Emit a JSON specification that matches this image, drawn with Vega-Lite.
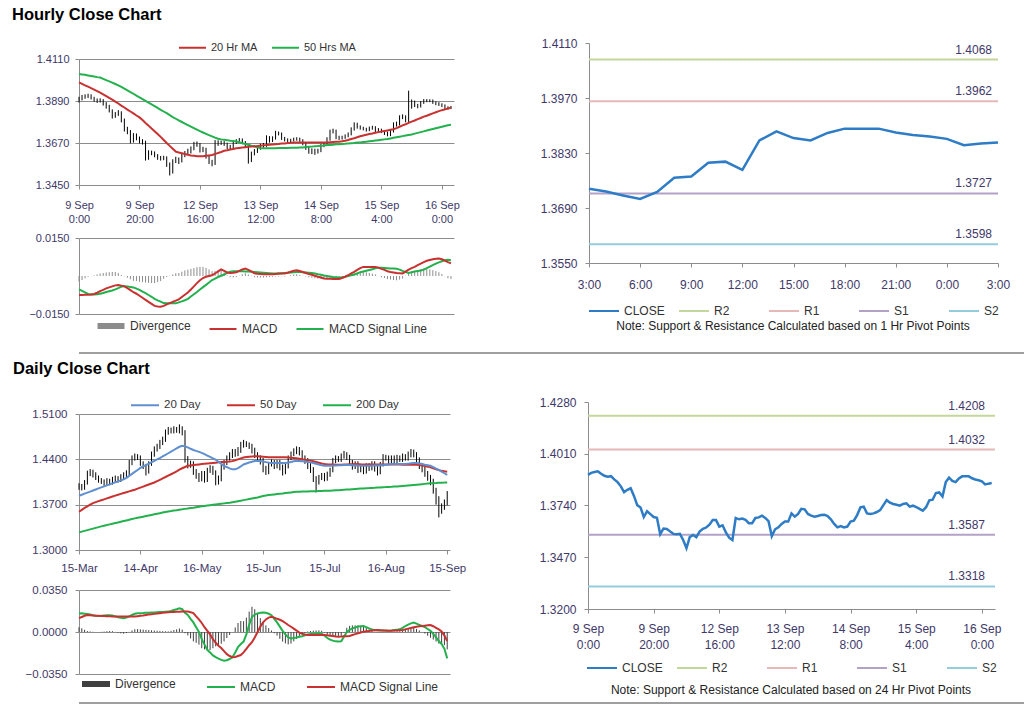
{
 "$schema": "https://vega.github.io/schema/vega-lite/v6.json",
 "background": "#ffffff",
 "padding": {"left": 0, "top": 6, "right": 0, "bottom": 0},
 "config": {
  "font": "Liberation Sans",
  "view": {"stroke": null},
  "legend": {"layout": {"top": {"anchor": "middle"}, "bottom": {"anchor": "middle"}}, "labelFont": "Liberation Sans", "titleFont": "Liberation Sans", "labelColor": "#333333"},
  "axis": {"labelFont": "Liberation Sans", "labelColor": "#403868", "domainColor": "#8c8c8c", "tickColor": "#8c8c8c", "gridColor": "#8c8c8c", "labelFontSize": 11}
 },
 "datasets": {
  "hr": [
{"i":0,"c":1.3900,"l":1.3882,"h":1.3912,"a":1.3988,"b":1.4031,"m":-0.0075,"s":-0.0053,"d":-0.0022},
{"i":1,"c":1.3910,"l":1.3893,"h":1.3922,"a":1.3980,"b":1.4029,"m":-0.0075,"s":-0.0059,"d":-0.0016},
{"i":2,"c":1.3915,"l":1.3902,"h":1.3925,"a":1.3972,"b":1.4027,"m":-0.0074,"s":-0.0065,"d":-0.0009},
{"i":3,"c":1.3918,"l":1.3906,"h":1.3928,"a":1.3965,"b":1.4024,"m":-0.0074,"s":-0.0071,"d":-0.0003},
{"i":4,"c":1.3906,"l":1.3898,"h":1.3925,"a":1.3957,"b":1.4021,"m":-0.0073,"s":-0.0073,"d":0},
{"i":5,"c":1.3895,"l":1.3886,"h":1.3912,"a":1.3950,"b":1.4018,"m":-0.0071,"s":-0.0073,"d":0.0002},
{"i":6,"c":1.3890,"l":1.3880,"h":1.3903,"a":1.3942,"b":1.4015,"m":-0.0066,"s":-0.0072,"d":0.0006},
{"i":7,"c":1.3893,"l":1.3882,"h":1.3904,"a":1.3934,"b":1.4013,"m":-0.0060,"s":-0.0070,"d":0.0010},
{"i":8,"c":1.3876,"l":1.3866,"h":1.3900,"a":1.3925,"b":1.4006,"m":-0.0055,"s":-0.0067,"d":0.0012},
{"i":9,"c":1.3862,"l":1.3850,"h":1.3884,"a":1.3916,"b":1.3999,"m":-0.0049,"s":-0.0063,"d":0.0014},
{"i":10,"c":1.3840,"l":1.3830,"h":1.3870,"a":1.3906,"b":1.3993,"m":-0.0045,"s":-0.0060,"d":0.0015},
{"i":11,"c":1.3810,"l":1.3798,"h":1.3846,"a":1.3897,"b":1.3986,"m":-0.0041,"s":-0.0057,"d":0.0016},
{"i":12,"c":1.3822,"l":1.3802,"h":1.3832,"a":1.3887,"b":1.3979,"m":-0.0037,"s":-0.0053,"d":0.0016},
{"i":13,"c":1.3830,"l":1.3812,"h":1.3842,"a":1.3877,"b":1.3972,"m":-0.0036,"s":-0.0048,"d":0.0012},
{"i":14,"c":1.3790,"l":1.3778,"h":1.3836,"a":1.3866,"b":1.3964,"m":-0.0038,"s":-0.0042,"d":0.0004},
{"i":15,"c":1.3742,"l":1.3730,"h":1.3798,"a":1.3856,"b":1.3955,"m":-0.0041,"s":-0.0040,"d":-0.0001},
{"i":16,"c":1.3730,"l":1.3716,"h":1.3755,"a":1.3845,"b":1.3946,"m":-0.0048,"s":-0.0041,"d":-0.0007},
{"i":17,"c":1.3680,"l":1.3668,"h":1.3738,"a":1.3835,"b":1.3937,"m":-0.0056,"s":-0.0043,"d":-0.0013},
{"i":18,"c":1.3710,"l":1.3672,"h":1.3722,"a":1.3825,"b":1.3928,"m":-0.0064,"s":-0.0045,"d":-0.0019},
{"i":19,"c":1.3695,"l":1.3684,"h":1.3720,"a":1.3814,"b":1.3918,"m":-0.0070,"s":-0.0050,"d":-0.0020},
{"i":20,"c":1.3680,"l":1.3668,"h":1.3704,"a":1.3804,"b":1.3909,"m":-0.0078,"s":-0.0055,"d":-0.0023},
{"i":21,"c":1.3676,"l":1.3662,"h":1.3690,"a":1.3790,"b":1.3900,"m":-0.0086,"s":-0.0062,"d":-0.0024},
{"i":22,"c":1.3590,"l":1.3578,"h":1.3682,"a":1.3775,"b":1.3891,"m":-0.0094,"s":-0.0068,"d":-0.0026},
{"i":23,"c":1.3620,"l":1.3582,"h":1.3632,"a":1.3761,"b":1.3881,"m":-0.0102,"s":-0.0075,"d":-0.0027},
{"i":24,"c":1.3618,"l":1.3606,"h":1.3630,"a":1.3746,"b":1.3872,"m":-0.0110,"s":-0.0082,"d":-0.0028},
{"i":25,"c":1.3605,"l":1.3595,"h":1.3626,"a":1.3732,"b":1.3863,"m":-0.0118,"s":-0.0090,"d":-0.0028},
{"i":26,"c":1.3592,"l":1.3582,"h":1.3612,"a":1.3717,"b":1.3854,"m":-0.0120,"s":-0.0096,"d":-0.0024},
{"i":27,"c":1.3590,"l":1.3578,"h":1.3602,"a":1.3702,"b":1.3844,"m":-0.0121,"s":-0.0101,"d":-0.0020},
{"i":28,"c":1.3592,"l":1.3580,"h":1.3603,"a":1.3686,"b":1.3835,"m":-0.0118,"s":-0.0107,"d":-0.0011},
{"i":29,"c":1.3560,"l":1.3545,"h":1.3600,"a":1.3670,"b":1.3826,"m":-0.0112,"s":-0.0108,"d":-0.0004},
{"i":30,"c":1.3517,"l":1.3500,"h":1.3568,"a":1.3655,"b":1.3816,"m":-0.0107,"s":-0.0108,"d":0.0001},
{"i":31,"c":1.3575,"l":1.3510,"h":1.3585,"a":1.3640,"b":1.3806,"m":-0.0102,"s":-0.0108,"d":0.0006},
{"i":32,"c":1.3586,"l":1.3565,"h":1.3598,"a":1.3625,"b":1.3797,"m":-0.0097,"s":-0.0108,"d":0.0011},
{"i":33,"c":1.3575,"l":1.3560,"h":1.3594,"a":1.3620,"b":1.3788,"m":-0.0092,"s":-0.0104,"d":0.0012},
{"i":34,"c":1.3604,"l":1.3568,"h":1.3615,"a":1.3616,"b":1.3780,"m":-0.0083,"s":-0.0100,"d":0.0017},
{"i":35,"c":1.3618,"l":1.3596,"h":1.3628,"a":1.3612,"b":1.3772,"m":-0.0074,"s":-0.0096,"d":0.0022},
{"i":36,"c":1.3625,"l":1.3610,"h":1.3640,"a":1.3608,"b":1.3764,"m":-0.0065,"s":-0.0090,"d":0.0025},
{"i":37,"c":1.3640,"l":1.3615,"h":1.3652,"a":1.3605,"b":1.3756,"m":-0.0053,"s":-0.0081,"d":0.0028},
{"i":38,"c":1.3664,"l":1.3632,"h":1.3676,"a":1.3603,"b":1.3748,"m":-0.0041,"s":-0.0072,"d":0.0031},
{"i":39,"c":1.3664,"l":1.3650,"h":1.3678,"a":1.3601,"b":1.3740,"m":-0.0028,"s":-0.0063,"d":0.0035},
{"i":40,"c":1.3630,"l":1.3620,"h":1.3670,"a":1.3600,"b":1.3732,"m":-0.0017,"s":-0.0053,"d":0.0036},
{"i":41,"c":1.3637,"l":1.3622,"h":1.3650,"a":1.3601,"b":1.3725,"m":-0.0008,"s":-0.0044,"d":0.0036},
{"i":42,"c":1.3600,"l":1.3588,"h":1.3645,"a":1.3603,"b":1.3718,"m":-0.0003,"s":-0.0035,"d":0.0032},
{"i":43,"c":1.3572,"l":1.3560,"h":1.3608,"a":1.3605,"b":1.3711,"m":0.0000,"s":-0.0026,"d":0.0026},
{"i":44,"c":1.3560,"l":1.3548,"h":1.3582,"a":1.3607,"b":1.3705,"m":0.0003,"s":-0.0016,"d":0.0019},
{"i":45,"c":1.3675,"l":1.3555,"h":1.3685,"a":1.3612,"b":1.3698,"m":0.0010,"s":-0.0010,"d":0.0020},
{"i":46,"c":1.3668,"l":1.3655,"h":1.3684,"a":1.3618,"b":1.3692,"m":0.0018,"s":-0.0004,"d":0.0022},
{"i":47,"c":1.3672,"l":1.3660,"h":1.3682,"a":1.3623,"b":1.3689,"m":0.0026,"s":0.0001,"d":0.0025},
{"i":48,"c":1.3665,"l":1.3655,"h":1.3680,"a":1.3629,"b":1.3687,"m":0.0020,"s":0.0006,"d":0.0014},
{"i":49,"c":1.3648,"l":1.3638,"h":1.3672,"a":1.3632,"b":1.3685,"m":0.0014,"s":0.0012,"d":0.0002},
{"i":50,"c":1.3648,"l":1.3636,"h":1.3660,"a":1.3636,"b":1.3682,"m":0.0012,"s":0.0017,"d":-0.0005},
{"i":51,"c":1.3675,"l":1.3640,"h":1.3685,"a":1.3639,"b":1.3680,"m":0.0013,"s":0.0019,"d":-0.0006},
{"i":52,"c":1.3678,"l":1.3665,"h":1.3690,"a":1.3642,"b":1.3678,"m":0.0015,"s":0.0019,"d":-0.0004},
{"i":53,"c":1.3687,"l":1.3670,"h":1.3696,"a":1.3644,"b":1.3674,"m":0.0020,"s":0.0019,"d":0.0001},
{"i":54,"c":1.3675,"l":1.3664,"h":1.3694,"a":1.3646,"b":1.3669,"m":0.0026,"s":0.0019,"d":0.0007},
{"i":55,"c":1.3658,"l":1.3646,"h":1.3680,"a":1.3648,"b":1.3665,"m":0.0029,"s":0.0018,"d":0.0011},
{"i":56,"c":1.3580,"l":1.3562,"h":1.3665,"a":1.3650,"b":1.3661,"m":0.0024,"s":0.0018,"d":0.0006},
{"i":57,"c":1.3616,"l":1.3570,"h":1.3625,"a":1.3651,"b":1.3656,"m":0.0018,"s":0.0017,"d":0.0001},
{"i":58,"c":1.3626,"l":1.3605,"h":1.3638,"a":1.3653,"b":1.3652,"m":0.0011,"s":0.0016,"d":-0.0005},
{"i":59,"c":1.3644,"l":1.3618,"h":1.3655,"a":1.3654,"b":1.3647,"m":0.0009,"s":0.0015,"d":-0.0006},
{"i":60,"c":1.3656,"l":1.3635,"h":1.3666,"a":1.3656,"b":1.3643,"m":0.0008,"s":0.0014,"d":-0.0006},
{"i":61,"c":1.3656,"l":1.3645,"h":1.3670,"a":1.3658,"b":1.3643,"m":0.0007,"s":0.0013,"d":-0.0006},
{"i":62,"c":1.3699,"l":1.3650,"h":1.3710,"a":1.3659,"b":1.3643,"m":0.0007,"s":0.0012,"d":-0.0005},
{"i":63,"c":1.3682,"l":1.3672,"h":1.3706,"a":1.3661,"b":1.3643,"m":0.0007,"s":0.0011,"d":-0.0004},
{"i":64,"c":1.3696,"l":1.3675,"h":1.3705,"a":1.3662,"b":1.3643,"m":0.0007,"s":0.0010,"d":-0.0003},
{"i":65,"c":1.3723,"l":1.3688,"h":1.3734,"a":1.3664,"b":1.3643,"m":0.0008,"s":0.0010,"d":-0.0002},
{"i":66,"c":1.3720,"l":1.3710,"h":1.3730,"a":1.3665,"b":1.3644,"m":0.0009,"s":0.0011,"d":-0.0002},
{"i":67,"c":1.3696,"l":1.3686,"h":1.3725,"a":1.3667,"b":1.3644,"m":0.0010,"s":0.0011,"d":-0.0001},
{"i":68,"c":1.3687,"l":1.3678,"h":1.3702,"a":1.3668,"b":1.3644,"m":0.0010,"s":0.0012,"d":-0.0002},
{"i":69,"c":1.3682,"l":1.3674,"h":1.3694,"a":1.3670,"b":1.3644,"m":0.0013,"s":0.0013,"d":0},
{"i":70,"c":1.3685,"l":1.3675,"h":1.3692,"a":1.3671,"b":1.3645,"m":0.0017,"s":0.0014,"d":0.0003},
{"i":71,"c":1.3690,"l":1.3678,"h":1.3698,"a":1.3673,"b":1.3645,"m":0.0021,"s":0.0015,"d":0.0006},
{"i":72,"c":1.3692,"l":1.3682,"h":1.3700,"a":1.3673,"b":1.3645,"m":0.0023,"s":0.0016,"d":0.0007},
{"i":73,"c":1.3685,"l":1.3676,"h":1.3698,"a":1.3673,"b":1.3646,"m":0.0020,"s":0.0016,"d":0.0004},
{"i":74,"c":1.3668,"l":1.3658,"h":1.3690,"a":1.3673,"b":1.3647,"m":0.0016,"s":0.0015,"d":0.0001},
{"i":75,"c":1.3644,"l":1.3634,"h":1.3672,"a":1.3673,"b":1.3649,"m":0.0012,"s":0.0014,"d":-0.0002},
{"i":76,"c":1.3626,"l":1.3614,"h":1.3650,"a":1.3673,"b":1.3650,"m":0.0008,"s":0.0013,"d":-0.0005},
{"i":77,"c":1.3633,"l":1.3612,"h":1.3642,"a":1.3673,"b":1.3651,"m":0.0005,"s":0.0012,"d":-0.0007},
{"i":78,"c":1.3626,"l":1.3608,"h":1.3640,"a":1.3673,"b":1.3653,"m":0.0001,"s":0.0010,"d":-0.0009},
{"i":79,"c":1.3630,"l":1.3615,"h":1.3640,"a":1.3673,"b":1.3654,"m":-0.0003,"s":0.0007,"d":-0.0010},
{"i":80,"c":1.3656,"l":1.3622,"h":1.3666,"a":1.3673,"b":1.3656,"m":-0.0006,"s":0.0005,"d":-0.0011},
{"i":81,"c":1.3661,"l":1.3648,"h":1.3672,"a":1.3673,"b":1.3657,"m":-0.0010,"s":0.0002,"d":-0.0012},
{"i":82,"c":1.3690,"l":1.3654,"h":1.3700,"a":1.3673,"b":1.3659,"m":-0.0011,"s":0.0000,"d":-0.0011},
{"i":83,"c":1.3730,"l":1.3682,"h":1.3740,"a":1.3674,"b":1.3660,"m":-0.0011,"s":-0.0002,"d":-0.0009},
{"i":84,"c":1.3734,"l":1.3720,"h":1.3745,"a":1.3675,"b":1.3661,"m":-0.0012,"s":-0.0004,"d":-0.0008},
{"i":85,"c":1.3699,"l":1.3690,"h":1.3740,"a":1.3676,"b":1.3663,"m":-0.0012,"s":-0.0005,"d":-0.0007},
{"i":86,"c":1.3696,"l":1.3686,"h":1.3708,"a":1.3677,"b":1.3664,"m":-0.0012,"s":-0.0006,"d":-0.0006},
{"i":87,"c":1.3699,"l":1.3688,"h":1.3708,"a":1.3679,"b":1.3665,"m":-0.0008,"s":-0.0005,"d":-0.0003},
{"i":88,"c":1.3706,"l":1.3692,"h":1.3715,"a":1.3682,"b":1.3666,"m":-0.0003,"s":-0.0003,"d":0},
{"i":89,"c":1.3716,"l":1.3700,"h":1.3725,"a":1.3686,"b":1.3668,"m":0.0003,"s":0.0000,"d":0.0003},
{"i":90,"c":1.3742,"l":1.3710,"h":1.3752,"a":1.3691,"b":1.3669,"m":0.0010,"s":0.0003,"d":0.0007},
{"i":91,"c":1.3768,"l":1.3735,"h":1.3778,"a":1.3695,"b":1.3670,"m":0.0016,"s":0.0006,"d":0.0010},
{"i":92,"c":1.3755,"l":1.3745,"h":1.3776,"a":1.3700,"b":1.3672,"m":0.0024,"s":0.0010,"d":0.0014},
{"i":93,"c":1.3748,"l":1.3740,"h":1.3762,"a":1.3705,"b":1.3673,"m":0.0031,"s":0.0015,"d":0.0016},
{"i":94,"c":1.3744,"l":1.3736,"h":1.3755,"a":1.3709,"b":1.3675,"m":0.0036,"s":0.0018,"d":0.0018},
{"i":95,"c":1.3739,"l":1.3730,"h":1.3750,"a":1.3713,"b":1.3677,"m":0.0036,"s":0.0021,"d":0.0015},
{"i":96,"c":1.3748,"l":1.3732,"h":1.3756,"a":1.3717,"b":1.3679,"m":0.0036,"s":0.0024,"d":0.0012},
{"i":97,"c":1.3751,"l":1.3740,"h":1.3760,"a":1.3720,"b":1.3681,"m":0.0036,"s":0.0027,"d":0.0009},
{"i":98,"c":1.3734,"l":1.3726,"h":1.3758,"a":1.3724,"b":1.3683,"m":0.0036,"s":0.0030,"d":0.0006},
{"i":99,"c":1.3739,"l":1.3725,"h":1.3748,"a":1.3727,"b":1.3685,"m":0.0033,"s":0.0033,"d":0},
{"i":100,"c":1.3732,"l":1.3722,"h":1.3745,"a":1.3730,"b":1.3687,"m":0.0028,"s":0.0033,"d":-0.0005},
{"i":101,"c":1.3722,"l":1.3712,"h":1.3738,"a":1.3733,"b":1.3689,"m":0.0024,"s":0.0032,"d":-0.0008},
{"i":102,"c":1.3713,"l":1.3705,"h":1.3730,"a":1.3736,"b":1.3691,"m":0.0019,"s":0.0031,"d":-0.0012},
{"i":103,"c":1.3731,"l":1.3706,"h":1.3740,"a":1.3739,"b":1.3694,"m":0.0016,"s":0.0030,"d":-0.0014},
{"i":104,"c":1.3767,"l":1.3725,"h":1.3778,"a":1.3742,"b":1.3697,"m":0.0014,"s":0.0030,"d":-0.0016},
{"i":105,"c":1.3770,"l":1.3756,"h":1.3782,"a":1.3748,"b":1.3700,"m":0.0012,"s":0.0029,"d":-0.0017},
{"i":106,"c":1.3805,"l":1.3762,"h":1.3815,"a":1.3755,"b":1.3703,"m":0.0011,"s":0.0025,"d":-0.0014},
{"i":107,"c":1.3808,"l":1.3795,"h":1.3820,"a":1.3762,"b":1.3706,"m":0.0010,"s":0.0020,"d":-0.0010},
{"i":108,"c":1.3787,"l":1.3778,"h":1.3815,"a":1.3768,"b":1.3709,"m":0.0017,"s":0.0016,"d":0.0001},
{"i":109,"c":1.3862,"l":1.3780,"h":1.3944,"a":1.3775,"b":1.3712,"m":0.0025,"s":0.0012,"d":0.0013},
{"i":110,"c":1.3885,"l":1.3850,"h":1.3898,"a":1.3782,"b":1.3715,"m":0.0031,"s":0.0015,"d":0.0016},
{"i":111,"c":1.3868,"l":1.3858,"h":1.3892,"a":1.3788,"b":1.3719,"m":0.0036,"s":0.0018,"d":0.0018},
{"i":112,"c":1.3862,"l":1.3852,"h":1.3875,"a":1.3795,"b":1.3723,"m":0.0043,"s":0.0020,"d":0.0023},
{"i":113,"c":1.3881,"l":1.3856,"h":1.3890,"a":1.3801,"b":1.3727,"m":0.0049,"s":0.0022,"d":0.0027},
{"i":114,"c":1.3892,"l":1.3875,"h":1.3900,"a":1.3808,"b":1.3731,"m":0.0055,"s":0.0025,"d":0.0030},
{"i":115,"c":1.3892,"l":1.3884,"h":1.3900,"a":1.3813,"b":1.3735,"m":0.0060,"s":0.0031,"d":0.0029},
{"i":116,"c":1.3892,"l":1.3884,"h":1.3899,"a":1.3819,"b":1.3739,"m":0.0063,"s":0.0037,"d":0.0026},
{"i":117,"c":1.3882,"l":1.3875,"h":1.3898,"a":1.3825,"b":1.3743,"m":0.0066,"s":0.0043,"d":0.0023},
{"i":118,"c":1.3876,"l":1.3868,"h":1.3888,"a":1.3831,"b":1.3747,"m":0.0068,"s":0.0049,"d":0.0019},
{"i":119,"c":1.3872,"l":1.3864,"h":1.3884,"a":1.3837,"b":1.3751,"m":0.0069,"s":0.0054,"d":0.0015},
{"i":120,"c":1.3866,"l":1.3858,"h":1.3878,"a":1.3842,"b":1.3755,"m":0.0066,"s":0.0058,"d":0.0008},
{"i":121,"c":1.3850,"l":1.3842,"h":1.3872,"a":1.3846,"b":1.3759,"m":0.0061,"s":0.0062,"d":-0.0001},
{"i":122,"c":1.3854,"l":1.3845,"h":1.3862,"a":1.3851,"b":1.3763,"m":0.0055,"s":0.0064,"d":-0.0009},
{"i":123,"c":1.3857,"l":1.3848,"h":1.3864,"a":1.3855,"b":1.3766,"m":0.0050,"s":0.0062,"d":-0.0012}
  ],
  "dy": [
{"d":0,"l":1.3930,"h":1.4030,"a":1.3838,"b":1.3591,"g":1.3272,"m":0.0155,"s":0.0115,"v":0.0040},
{"d":1,"l":1.3920,"h":1.4020,"a":1.3854,"b":1.3620,"g":1.3284,"m":0.0156,"s":0.0125,"v":0.0031},
{"d":2,"l":1.3930,"h":1.4080,"a":1.3870,"b":1.3650,"g":1.3295,"m":0.0153,"s":0.0135,"v":0.0018},
{"d":3,"l":1.4010,"h":1.4225,"a":1.3886,"b":1.3675,"g":1.3307,"m":0.0150,"s":0.0142,"v":0.0008},
{"d":4,"l":1.4140,"h":1.4250,"a":1.3902,"b":1.3700,"g":1.3319,"m":0.0145,"s":0.0140,"v":0.0005},
{"d":5,"l":1.4120,"h":1.4240,"a":1.3918,"b":1.3725,"g":1.3330,"m":0.0140,"s":0.0138,"v":0.0002},
{"d":6,"l":1.4080,"h":1.4200,"a":1.3935,"b":1.3740,"g":1.3342,"m":0.0136,"s":0.0136,"v":0},
{"d":7,"l":1.4040,"h":1.4150,"a":1.3951,"b":1.3754,"g":1.3353,"m":0.0134,"s":0.0135,"v":-0.0001},
{"d":8,"l":1.4020,"h":1.4110,"a":1.3967,"b":1.3768,"g":1.3365,"m":0.0135,"s":0.0134,"v":0.0001},
{"d":9,"l":1.3990,"h":1.4090,"a":1.3982,"b":1.3782,"g":1.3375,"m":0.0137,"s":0.0133,"v":0.0004},
{"d":10,"l":1.4000,"h":1.4110,"a":1.3998,"b":1.3797,"g":1.3385,"m":0.0139,"s":0.0132,"v":0.0007},
{"d":11,"l":1.4000,"h":1.4100,"a":1.4013,"b":1.3811,"g":1.3396,"m":0.0140,"s":0.0131,"v":0.0009},
{"d":12,"l":1.4010,"h":1.4130,"a":1.4029,"b":1.3825,"g":1.3406,"m":0.0137,"s":0.0130,"v":0.0007},
{"d":13,"l":1.4050,"h":1.4150,"a":1.4044,"b":1.3840,"g":1.3416,"m":0.0130,"s":0.0129,"v":0.0001},
{"d":14,"l":1.4040,"h":1.4140,"a":1.4060,"b":1.3853,"g":1.3426,"m":0.0123,"s":0.0129,"v":-0.0006},
{"d":15,"l":1.4050,"h":1.4170,"a":1.4075,"b":1.3866,"g":1.3437,"m":0.0118,"s":0.0129,"v":-0.0011},
{"d":16,"l":1.4090,"h":1.4200,"a":1.4091,"b":1.3879,"g":1.3447,"m":0.0115,"s":0.0129,"v":-0.0014},
{"d":17,"l":1.4110,"h":1.4230,"a":1.4114,"b":1.3892,"g":1.3457,"m":0.0120,"s":0.0129,"v":-0.0009},
{"d":18,"l":1.4150,"h":1.4390,"a":1.4145,"b":1.3905,"g":1.3467,"m":0.0130,"s":0.0129,"v":0.0001},
{"d":19,"l":1.4310,"h":1.4460,"a":1.4175,"b":1.3918,"g":1.3478,"m":0.0142,"s":0.0129,"v":0.0013},
{"d":20,"l":1.4380,"h":1.4490,"a":1.4206,"b":1.3931,"g":1.3488,"m":0.0152,"s":0.0129,"v":0.0023},
{"d":21,"l":1.4390,"h":1.4480,"a":1.4236,"b":1.3947,"g":1.3497,"m":0.0156,"s":0.0132,"v":0.0024},
{"d":22,"l":1.4300,"h":1.4460,"a":1.4267,"b":1.3963,"g":1.3506,"m":0.0157,"s":0.0135,"v":0.0022},
{"d":23,"l":1.4250,"h":1.4370,"a":1.4291,"b":1.3979,"g":1.3515,"m":0.0158,"s":0.0138,"v":0.0020},
{"d":24,"l":1.4150,"h":1.4330,"a":1.4312,"b":1.3995,"g":1.3524,"m":0.0160,"s":0.0142,"v":0.0018},
{"d":25,"l":1.4180,"h":1.4370,"a":1.4334,"b":1.4011,"g":1.3533,"m":0.0161,"s":0.0145,"v":0.0016},
{"d":26,"l":1.4300,"h":1.4520,"a":1.4355,"b":1.4027,"g":1.3542,"m":0.0162,"s":0.0148,"v":0.0014},
{"d":27,"l":1.4440,"h":1.4600,"a":1.4377,"b":1.4043,"g":1.3551,"m":0.0163,"s":0.0151,"v":0.0012},
{"d":28,"l":1.4520,"h":1.4640,"a":1.4398,"b":1.4063,"g":1.3560,"m":0.0165,"s":0.0154,"v":0.0011},
{"d":29,"l":1.4560,"h":1.4700,"a":1.4420,"b":1.4084,"g":1.3569,"m":0.0166,"s":0.0157,"v":0.0009},
{"d":30,"l":1.4620,"h":1.4750,"a":1.4444,"b":1.4106,"g":1.3578,"m":0.0167,"s":0.0160,"v":0.0007},
{"d":31,"l":1.4670,"h":1.4860,"a":1.4469,"b":1.4127,"g":1.3587,"m":0.0169,"s":0.0163,"v":0.0006},
{"d":32,"l":1.4780,"h":1.4900,"a":1.4494,"b":1.4149,"g":1.3596,"m":0.0170,"s":0.0165,"v":0.0005},
{"d":33,"l":1.4800,"h":1.4890,"a":1.4519,"b":1.4170,"g":1.3602,"m":0.0176,"s":0.0166,"v":0.0010},
{"d":34,"l":1.4800,"h":1.4910,"a":1.4544,"b":1.4192,"g":1.3609,"m":0.0183,"s":0.0167,"v":0.0016},
{"d":35,"l":1.4810,"h":1.4900,"a":1.4569,"b":1.4215,"g":1.3615,"m":0.0190,"s":0.0168,"v":0.0022},
{"d":36,"l":1.4800,"h":1.4940,"a":1.4594,"b":1.4240,"g":1.3622,"m":0.0198,"s":0.0169,"v":0.0029},
{"d":37,"l":1.4770,"h":1.4910,"a":1.4610,"b":1.4262,"g":1.3628,"m":0.0190,"s":0.0170,"v":0.0020},
{"d":38,"l":1.4350,"h":1.4850,"a":1.4600,"b":1.4282,"g":1.3635,"m":0.0160,"s":0.0170,"v":-0.0010},
{"d":39,"l":1.4260,"h":1.4450,"a":1.4585,"b":1.4300,"g":1.3641,"m":0.0142,"s":0.0170,"v":-0.0028},
{"d":40,"l":1.4270,"h":1.4380,"a":1.4563,"b":1.4306,"g":1.3648,"m":0.0110,"s":0.0164,"v":-0.0054},
{"d":41,"l":1.4160,"h":1.4370,"a":1.4545,"b":1.4312,"g":1.3654,"m":0.0080,"s":0.0158,"v":-0.0078},
{"d":42,"l":1.4100,"h":1.4250,"a":1.4530,"b":1.4317,"g":1.3661,"m":0.0040,"s":0.0130,"v":-0.0090},
{"d":43,"l":1.4050,"h":1.4190,"a":1.4516,"b":1.4322,"g":1.3667,"m":0.0000,"s":0.0105,"v":-0.0105},
{"d":44,"l":1.4060,"h":1.4220,"a":1.4500,"b":1.4327,"g":1.3674,"m":-0.0060,"s":0.0075,"v":-0.0135},
{"d":45,"l":1.4040,"h":1.4220,"a":1.4480,"b":1.4332,"g":1.3680,"m":-0.0105,"s":0.0040,"v":-0.0145},
{"d":46,"l":1.4050,"h":1.4270,"a":1.4458,"b":1.4337,"g":1.3686,"m":-0.0148,"s":0.0010,"v":-0.0158},
{"d":47,"l":1.4190,"h":1.4310,"a":1.4437,"b":1.4341,"g":1.3692,"m":-0.0170,"s":-0.0020,"v":-0.0150},
{"d":48,"l":1.4160,"h":1.4300,"a":1.4415,"b":1.4345,"g":1.3698,"m":-0.0195,"s":-0.0060,"v":-0.0135},
{"d":49,"l":1.4000,"h":1.4230,"a":1.4394,"b":1.4349,"g":1.3704,"m":-0.0210,"s":-0.0090,"v":-0.0120},
{"d":50,"l":1.4010,"h":1.4150,"a":1.4362,"b":1.4353,"g":1.3709,"m":-0.0222,"s":-0.0115,"v":-0.0107},
{"d":51,"l":1.4060,"h":1.4320,"a":1.4330,"b":1.4357,"g":1.3715,"m":-0.0232,"s":-0.0134,"v":-0.0098},
{"d":52,"l":1.4240,"h":1.4390,"a":1.4300,"b":1.4360,"g":1.3720,"m":-0.0239,"s":-0.0160,"v":-0.0079},
{"d":53,"l":1.4310,"h":1.4460,"a":1.4280,"b":1.4363,"g":1.3725,"m":-0.0235,"s":-0.0185,"v":-0.0050},
{"d":54,"l":1.4380,"h":1.4510,"a":1.4260,"b":1.4365,"g":1.3730,"m":-0.0225,"s":-0.0200,"v":-0.0025},
{"d":55,"l":1.4420,"h":1.4560,"a":1.4245,"b":1.4372,"g":1.3738,"m":-0.0210,"s":-0.0210,"v":0},
{"d":56,"l":1.4440,"h":1.4560,"a":1.4245,"b":1.4385,"g":1.3746,"m":-0.0170,"s":-0.0208,"v":0.0038},
{"d":57,"l":1.4450,"h":1.4590,"a":1.4265,"b":1.4400,"g":1.3754,"m":-0.0125,"s":-0.0200,"v":0.0075},
{"d":58,"l":1.4500,"h":1.4670,"a":1.4290,"b":1.4415,"g":1.3762,"m":-0.0100,"s":-0.0192,"v":0.0092},
{"d":59,"l":1.4580,"h":1.4700,"a":1.4320,"b":1.4428,"g":1.3770,"m":-0.0080,"s":-0.0170,"v":0.0090},
{"d":60,"l":1.4590,"h":1.4680,"a":1.4335,"b":1.4436,"g":1.3778,"m":-0.0020,"s":-0.0140,"v":0.0120},
{"d":61,"l":1.4560,"h":1.4660,"a":1.4350,"b":1.4440,"g":1.3786,"m":0.0060,"s":-0.0110,"v":0.0170},
{"d":62,"l":1.4490,"h":1.4640,"a":1.4362,"b":1.4443,"g":1.3794,"m":0.0125,"s":-0.0085,"v":0.0210},
{"d":63,"l":1.4420,"h":1.4580,"a":1.4373,"b":1.4446,"g":1.3802,"m":0.0145,"s":-0.0045,"v":0.0190},
{"d":64,"l":1.4380,"h":1.4510,"a":1.4379,"b":1.4446,"g":1.3810,"m":0.0155,"s":0.0000,"v":0.0155},
{"d":65,"l":1.4320,"h":1.4460,"a":1.4373,"b":1.4443,"g":1.3822,"m":0.0160,"s":0.0045,"v":0.0115},
{"d":66,"l":1.4200,"h":1.4420,"a":1.4365,"b":1.4440,"g":1.3834,"m":0.0163,"s":0.0080,"v":0.0083},
{"d":67,"l":1.4160,"h":1.4300,"a":1.4357,"b":1.4437,"g":1.3842,"m":0.0160,"s":0.0105,"v":0.0055},
{"d":68,"l":1.4170,"h":1.4360,"a":1.4349,"b":1.4433,"g":1.3848,"m":0.0152,"s":0.0120,"v":0.0032},
{"d":69,"l":1.4290,"h":1.4400,"a":1.4343,"b":1.4431,"g":1.3853,"m":0.0140,"s":0.0127,"v":0.0013},
{"d":70,"l":1.4250,"h":1.4390,"a":1.4343,"b":1.4431,"g":1.3858,"m":0.0110,"s":0.0120,"v":-0.0010},
{"d":71,"l":1.4260,"h":1.4390,"a":1.4343,"b":1.4431,"g":1.3863,"m":0.0080,"s":0.0110,"v":-0.0030},
{"d":72,"l":1.4230,"h":1.4390,"a":1.4343,"b":1.4431,"g":1.3868,"m":0.0045,"s":0.0102,"v":-0.0057},
{"d":73,"l":1.4150,"h":1.4320,"a":1.4343,"b":1.4431,"g":1.3873,"m":0.0010,"s":0.0090,"v":-0.0080},
{"d":74,"l":1.4170,"h":1.4330,"a":1.4343,"b":1.4431,"g":1.3879,"m":-0.0020,"s":0.0075,"v":-0.0095},
{"d":75,"l":1.4260,"h":1.4460,"a":1.4350,"b":1.4428,"g":1.3884,"m":-0.0045,"s":0.0058,"v":-0.0103},
{"d":76,"l":1.4390,"h":1.4520,"a":1.4360,"b":1.4424,"g":1.3889,"m":-0.0053,"s":0.0044,"v":-0.0097},
{"d":77,"l":1.4450,"h":1.4570,"a":1.4370,"b":1.4420,"g":1.3894,"m":-0.0050,"s":0.0028,"v":-0.0078},
{"d":78,"l":1.4480,"h":1.4600,"a":1.4379,"b":1.4416,"g":1.3899,"m":-0.0046,"s":0.0012,"v":-0.0058},
{"d":79,"l":1.4460,"h":1.4590,"a":1.4375,"b":1.4410,"g":1.3901,"m":-0.0040,"s":-0.0005,"v":-0.0035},
{"d":80,"l":1.4380,"h":1.4540,"a":1.4370,"b":1.4402,"g":1.3902,"m":-0.0035,"s":-0.0014,"v":-0.0021},
{"d":81,"l":1.4330,"h":1.4460,"a":1.4365,"b":1.4395,"g":1.3903,"m":-0.0028,"s":-0.0020,"v":-0.0008},
{"d":82,"l":1.4250,"h":1.4420,"a":1.4360,"b":1.4387,"g":1.3905,"m":-0.0020,"s":-0.0024,"v":0.0004},
{"d":83,"l":1.4190,"h":1.4340,"a":1.4353,"b":1.4380,"g":1.3906,"m":-0.0017,"s":-0.0025,"v":0.0008},
{"d":84,"l":1.4050,"h":1.4280,"a":1.4342,"b":1.4370,"g":1.3907,"m":-0.0014,"s":-0.0025,"v":0.0011},
{"d":85,"l":1.3890,"h":1.4140,"a":1.4331,"b":1.4358,"g":1.3909,"m":-0.0012,"s":-0.0025,"v":0.0013},
{"d":86,"l":1.4010,"h":1.4160,"a":1.4320,"b":1.4347,"g":1.3910,"m":-0.0011,"s":-0.0025,"v":0.0014},
{"d":87,"l":1.4080,"h":1.4190,"a":1.4310,"b":1.4336,"g":1.3911,"m":-0.0015,"s":-0.0025,"v":0.0010},
{"d":88,"l":1.4060,"h":1.4190,"a":1.4302,"b":1.4327,"g":1.3913,"m":-0.0030,"s":-0.0025,"v":-0.0005},
{"d":89,"l":1.4070,"h":1.4210,"a":1.4302,"b":1.4324,"g":1.3914,"m":-0.0050,"s":-0.0028,"v":-0.0022},
{"d":90,"l":1.4130,"h":1.4270,"a":1.4302,"b":1.4322,"g":1.3915,"m":-0.0064,"s":-0.0031,"v":-0.0033},
{"d":91,"l":1.4200,"h":1.4420,"a":1.4303,"b":1.4320,"g":1.3918,"m":-0.0072,"s":-0.0034,"v":-0.0038},
{"d":92,"l":1.4340,"h":1.4460,"a":1.4305,"b":1.4318,"g":1.3921,"m":-0.0078,"s":-0.0037,"v":-0.0041},
{"d":93,"l":1.4360,"h":1.4450,"a":1.4307,"b":1.4317,"g":1.3924,"m":-0.0080,"s":-0.0039,"v":-0.0041},
{"d":94,"l":1.4360,"h":1.4490,"a":1.4309,"b":1.4318,"g":1.3927,"m":-0.0078,"s":-0.0038,"v":-0.0040},
{"d":95,"l":1.4410,"h":1.4530,"a":1.4311,"b":1.4320,"g":1.3930,"m":-0.0040,"s":-0.0036,"v":-0.0004},
{"d":96,"l":1.4390,"h":1.4510,"a":1.4312,"b":1.4322,"g":1.3933,"m":0.0000,"s":-0.0035,"v":0.0035},
{"d":97,"l":1.4300,"h":1.4470,"a":1.4311,"b":1.4324,"g":1.3936,"m":0.0018,"s":-0.0033,"v":0.0051},
{"d":98,"l":1.4240,"h":1.4390,"a":1.4309,"b":1.4326,"g":1.3939,"m":0.0030,"s":-0.0025,"v":0.0055},
{"d":99,"l":1.4250,"h":1.4370,"a":1.4306,"b":1.4327,"g":1.3942,"m":0.0038,"s":-0.0018,"v":0.0056},
{"d":100,"l":1.4190,"h":1.4370,"a":1.4303,"b":1.4325,"g":1.3945,"m":0.0045,"s":-0.0010,"v":0.0055},
{"d":101,"l":1.4200,"h":1.4320,"a":1.4302,"b":1.4323,"g":1.3948,"m":0.0048,"s":-0.0004,"v":0.0052},
{"d":102,"l":1.4170,"h":1.4320,"a":1.4302,"b":1.4322,"g":1.3951,"m":0.0050,"s":0.0003,"v":0.0047},
{"d":103,"l":1.4180,"h":1.4340,"a":1.4302,"b":1.4322,"g":1.3954,"m":0.0040,"s":0.0006,"v":0.0034},
{"d":104,"l":1.4220,"h":1.4340,"a":1.4302,"b":1.4322,"g":1.3956,"m":0.0030,"s":0.0009,"v":0.0021},
{"d":105,"l":1.4230,"h":1.4370,"a":1.4302,"b":1.4322,"g":1.3959,"m":0.0022,"s":0.0012,"v":0.0010},
{"d":106,"l":1.4210,"h":1.4370,"a":1.4303,"b":1.4322,"g":1.3961,"m":0.0017,"s":0.0015,"v":0.0002},
{"d":107,"l":1.4150,"h":1.4300,"a":1.4304,"b":1.4322,"g":1.3964,"m":0.0015,"s":0.0017,"v":-0.0002},
{"d":108,"l":1.4170,"h":1.4360,"a":1.4307,"b":1.4322,"g":1.3966,"m":0.0013,"s":0.0015,"v":-0.0002},
{"d":109,"l":1.4290,"h":1.4480,"a":1.4310,"b":1.4322,"g":1.3969,"m":0.0012,"s":0.0013,"v":-0.0001},
{"d":110,"l":1.4380,"h":1.4470,"a":1.4316,"b":1.4322,"g":1.3971,"m":0.0011,"s":0.0012,"v":-0.0001},
{"d":111,"l":1.4330,"h":1.4460,"a":1.4322,"b":1.4322,"g":1.3974,"m":0.0011,"s":0.0011,"v":0},
{"d":112,"l":1.4340,"h":1.4460,"a":1.4327,"b":1.4322,"g":1.3976,"m":0.0013,"s":0.0011,"v":0.0002},
{"d":113,"l":1.4320,"h":1.4460,"a":1.4327,"b":1.4321,"g":1.3979,"m":0.0016,"s":0.0012,"v":0.0004},
{"d":114,"l":1.4320,"h":1.4470,"a":1.4327,"b":1.4320,"g":1.3981,"m":0.0019,"s":0.0013,"v":0.0006},
{"d":115,"l":1.4360,"h":1.4460,"a":1.4327,"b":1.4319,"g":1.3985,"m":0.0022,"s":0.0015,"v":0.0007},
{"d":116,"l":1.4360,"h":1.4490,"a":1.4327,"b":1.4318,"g":1.3989,"m":0.0035,"s":0.0017,"v":0.0018},
{"d":117,"l":1.4380,"h":1.4480,"a":1.4327,"b":1.4317,"g":1.3993,"m":0.0050,"s":0.0022,"v":0.0028},
{"d":118,"l":1.4380,"h":1.4520,"a":1.4333,"b":1.4317,"g":1.3997,"m":0.0062,"s":0.0028,"v":0.0034},
{"d":119,"l":1.4430,"h":1.4560,"a":1.4338,"b":1.4317,"g":1.4001,"m":0.0072,"s":0.0034,"v":0.0038},
{"d":120,"l":1.4430,"h":1.4550,"a":1.4342,"b":1.4317,"g":1.4005,"m":0.0078,"s":0.0040,"v":0.0038},
{"d":121,"l":1.4350,"h":1.4510,"a":1.4343,"b":1.4317,"g":1.4009,"m":0.0070,"s":0.0044,"v":0.0026},
{"d":122,"l":1.4250,"h":1.4430,"a":1.4335,"b":1.4313,"g":1.4013,"m":0.0060,"s":0.0047,"v":0.0013},
{"d":123,"l":1.4200,"h":1.4340,"a":1.4327,"b":1.4305,"g":1.4017,"m":0.0050,"s":0.0050,"v":0},
{"d":124,"l":1.4130,"h":1.4290,"a":1.4318,"b":1.4296,"g":1.4021,"m":0.0040,"s":0.0053,"v":-0.0013},
{"d":125,"l":1.4070,"h":1.4220,"a":1.4310,"b":1.4287,"g":1.4025,"m":0.0025,"s":0.0056,"v":-0.0031},
{"d":126,"l":1.4000,"h":1.4160,"a":1.4300,"b":1.4276,"g":1.4029,"m":0.0010,"s":0.0058,"v":-0.0048},
{"d":127,"l":1.3870,"h":1.4100,"a":1.4280,"b":1.4262,"g":1.4032,"m":-0.0015,"s":0.0048,"v":-0.0063},
{"d":128,"l":1.3700,"h":1.3960,"a":1.4258,"b":1.4248,"g":1.4034,"m":-0.0045,"s":0.0035,"v":-0.0080},
{"d":129,"l":1.3504,"h":1.3830,"a":1.4236,"b":1.4233,"g":1.4037,"m":-0.0075,"s":0.0022,"v":-0.0097},
{"d":130,"l":1.3560,"h":1.3720,"a":1.4210,"b":1.4222,"g":1.4039,"m":-0.0100,"s":0.0005,"v":-0.0105},
{"d":131,"l":1.3620,"h":1.3780,"a":1.4185,"b":1.4215,"g":1.4041,"m":-0.0140,"s":-0.0030,"v":-0.0110},
{"d":132,"l":1.3690,"h":1.3910,"a":1.4160,"b":1.4209,"g":1.4044,"m":-0.0220,"s":-0.0075,"v":-0.0145}
  ]
 },
 "concat": [
  {
   "title": {"text": "Hourly Close Chart", "anchor": "start", "fontSize": 16.5, "fontWeight": "bold", "color": "#000000", "dx": 12, "offset": 10},
   "columns": 2,
   "align": "none",
   "spacing": 80,
   "resolve": {"scale": {"color": "independent", "x": "independent", "y": "independent"}, "legend": {"color": "independent"}},
   "concat": [
    {
     "spacing": -11,
     "resolve": {"scale": {"color": "independent", "x": "independent", "y": "independent"}, "legend": {"color": "independent"}},
     "vconcat": [
      {"width": 375, "height": 1, "data": {"values": [{"k": 1}]}, "mark": {"type": "rule", "opacity": 0}, "encoding": {}},
      {
       "spacing": 8,
       "resolve": {"scale": {"color": "independent", "x": "independent", "y": "independent"}, "legend": {"color": "independent"}},
       "vconcat": [
        {
         "width": 375, "height": 126,
         "data": {"name": "hr"},
         "encoding": {"x": {"field": "i", "type": "quantitative", "title": null, "scale": {"domain": [0, 124], "nice": false, "zero": false},
           "axis": {"values": [0, 20, 40, 60, 80, 100, 120], "labelExpr": "[['9 Sep','0:00'],['9 Sep','20:00'],['12 Sep','16:00'],['13 Sep','12:00'],['14 Sep','8:00'],['15 Sep','4:00'],['16 Sep','0:00']][datum.value/20]", "grid": false, "domain": false, "tickSize": 4, "labelPadding": 10, "labelLineHeight": 14, "labelFontSize": 11, "labelFlush": false}}},
         "layer": [
          {"mark": {"type": "rule", "color": "#000000", "strokeWidth": 1},
           "encoding": {"y": {"field": "l", "type": "quantitative", "title": null, "scale": {"domain": [1.345, 1.411], "nice": false, "zero": false},
             "axis": {"values": [1.345, 1.367, 1.389, 1.411], "format": ".4f", "grid": true, "tickSize": 4, "labelPadding": 6, "minExtent": 79}},
            "y2": {"field": "h"}}},
          {"mark": {"type": "line", "strokeWidth": 2},
           "encoding": {"y": {"field": "b", "type": "quantitative", "title": null},
            "color": {"datum": "50 Hrs MA", "type": "nominal", "scale": {"domain": ["20 Hr MA", "50 Hrs MA"], "range": ["#c8312f", "#23b14d"]},
             "legend": {"orient": "top", "direction": "horizontal", "title": null, "symbolType": "stroke", "symbolSize": 729, "symbolStrokeWidth": 2, "labelFontSize": 11, "columnPadding": 10, "offset": 6}}}},
          {"mark": {"type": "line", "strokeWidth": 2},
           "encoding": {"y": {"field": "a", "type": "quantitative", "title": null}, "color": {"datum": "20 Hr MA", "type": "nominal"}}}
         ]
        },
        {
         "width": 375, "height": 76,
         "data": {"name": "hr"},
         "encoding": {"x": {"field": "i", "type": "quantitative", "title": null, "scale": {"domain": [0, 124], "nice": false, "zero": false}, "axis": null}},
         "layer": [
          {"mark": {"type": "rule", "strokeWidth": 1},
           "encoding": {"y": {"field": "d", "type": "quantitative", "title": null, "scale": {"domain": [-0.015, 0.015], "nice": false},
             "axis": {"values": [-0.015, 0, 0.015], "format": ".4f", "grid": true, "tickSize": 4, "labelPadding": 6, "minExtent": 79}},
            "y2": {"datum": 0},
            "color": {"datum": "Divergence", "type": "nominal", "scale": {"domain": ["Divergence", "MACD", "MACD Signal Line"], "range": ["#8c8c8c", "#c8312f", "#23b14d"]},
             "legend": {"orient": "bottom", "direction": "horizontal", "title": null, "symbolType": "stroke", "symbolSize": 729, "symbolStrokeWidth": 2, "labelFontSize": 12, "labelOffset": 13, "columnPadding": 14, "offset": 6,
              "encode": {"symbols": {"update": {"strokeWidth": {"signal": "datum.value === 'Divergence' ? 6 : 2"}}}}}}}},
          {"mark": {"type": "line", "strokeWidth": 2},
           "encoding": {"y": {"field": "s", "type": "quantitative", "title": null}, "color": {"datum": "MACD Signal Line", "type": "nominal"}}},
          {"mark": {"type": "line", "strokeWidth": 2},
           "encoding": {"y": {"field": "m", "type": "quantitative", "title": null}, "color": {"datum": "MACD", "type": "nominal"}}}
         ]
        }
       ]
      }
     ]
    },
    {
     "width": 409, "height": 220,
     "layer": [
      {"data": {"values": [{"n": "R2", "v": 1.4068}, {"n": "R1", "v": 1.3962}, {"n": "S1", "v": 1.3727}, {"n": "S2", "v": 1.3598}]},
       "mark": {"type": "rule", "strokeWidth": 2},
       "encoding": {"y": {"field": "v", "type": "quantitative", "title": null, "scale": {"domain": [1.355, 1.411], "nice": false, "zero": false},
         "axis": {"values": [1.355, 1.369, 1.383, 1.397, 1.411], "format": ".4f", "grid": false, "tickSize": 4, "labelPadding": 8, "labelFontSize": 12}},
        "color": {"field": "n", "type": "nominal", "scale": {"domain": ["CLOSE", "R2", "R1", "S1", "S2"], "range": ["#2e7cc6", "#c3d69b", "#e6b9b8", "#b3a2c7", "#93cddd"]},
         "legend": {"orient": "bottom", "direction": "horizontal", "title": "Note: Support & Resistance Calculated based on 1 Hr Pivot Points", "titleOrient": "bottom", "titleAnchor": "middle", "titleFontWeight": "normal", "titleFontSize": 12, "titleColor": "#222222", "titleLimit": 1000, "titlePadding": 4, "symbolType": "stroke", "symbolSize": 900, "symbolStrokeWidth": 2, "labelFontSize": 12, "columnPadding": 10, "gridAlign": "all", "offset": 5}}}},
      {"data": {"values": [{"n": "R2", "v": 1.4068}, {"n": "R1", "v": 1.3962}, {"n": "S1", "v": 1.3727}, {"n": "S2", "v": 1.3598}]},
       "mark": {"type": "text", "align": "right", "baseline": "bottom", "dx": -6, "dy": -3, "fontSize": 12, "color": "#403868"},
       "encoding": {"x": {"datum": 123, "type": "quantitative", "title": null}, "y": {"field": "v", "type": "quantitative", "title": null}, "text": {"field": "v", "type": "quantitative", "format": ".4f"}}},
      {"data": {"name": "hr"}, "transform": [{"filter": "datum.i >= 99"}],
       "mark": {"type": "line", "strokeWidth": 2.5},
       "encoding": {"x": {"field": "i", "type": "quantitative", "title": null, "scale": {"domain": [99, 123], "nice": false, "zero": false},
         "axis": {"values": [99, 102, 105, 108, 111, 114, 117, 120, 123], "labelExpr": "((datum.value - 96) % 24) + ':00'", "grid": false, "tickSize": 4, "labelPadding": 12, "labelFontSize": 12, "labelFlush": false}},
        "y": {"field": "c", "type": "quantitative", "title": null}, "color": {"datum": "CLOSE", "type": "nominal"}}}
     ]
    }
   ]
  },
  {
   "width": 1024, "height": 9,
   "data": {"values": [{"k": 1}]},
   "mark": {"type": "rule", "color": "#7f7f7f", "strokeWidth": 1.5},
   "encoding": {"y": {"value": "height"}}
  },
  {
   "title": {"text": "Daily Close Chart", "anchor": "start", "fontSize": 16.5, "fontWeight": "bold", "color": "#000000", "dx": 12, "offset": 13},
   "columns": 2,
   "align": "none",
   "spacing": 73,
   "resolve": {"scale": {"color": "independent", "x": "independent", "y": "independent"}, "legend": {"color": "independent"}},
   "concat": [
    {
     "spacing": -13,
     "resolve": {"scale": {"color": "independent", "x": "independent", "y": "independent"}, "legend": {"color": "independent"}},
     "vconcat": [
      {"width": 371, "height": 1, "data": {"values": [{"k": 1}]}, "mark": {"type": "rule", "opacity": 0}, "encoding": {}},
      {
       "spacing": 10,
       "resolve": {"scale": {"color": "independent", "x": "independent", "y": "independent"}, "legend": {"color": "independent"}},
       "vconcat": [
        {
         "width": 371, "height": 136,
         "data": {"name": "dy"},
         "encoding": {"x": {"field": "d", "type": "quantitative", "title": null, "scale": {"domain": [0, 133], "nice": false, "zero": false},
           "axis": {"values": [0, 22, 44, 66, 88, 110, 132], "labelExpr": "['15-Mar','14-Apr','16-May','15-Jun','15-Jul','16-Aug','15-Sep'][datum.value/22]", "grid": false, "domain": false, "tickSize": 4, "labelPadding": 8, "labelFontSize": 11.5, "labelFlush": false}}},
         "layer": [
          {"mark": {"type": "rule", "color": "#000000", "strokeWidth": 1},
           "encoding": {"y": {"field": "l", "type": "quantitative", "title": null, "scale": {"domain": [1.3, 1.51], "nice": false, "zero": false},
             "axis": {"values": [1.3, 1.37, 1.44, 1.51], "format": ".4f", "grid": true, "tickSize": 4, "labelPadding": 8, "labelFontSize": 11.5, "minExtent": 78}},
            "y2": {"field": "h"}}},
          {"mark": {"type": "line", "strokeWidth": 2},
           "encoding": {"y": {"field": "g", "type": "quantitative", "title": null},
            "color": {"datum": "200 Day", "type": "nominal", "scale": {"domain": ["20 Day", "50 Day", "200 Day"], "range": ["#5f8fcf", "#c8312f", "#23b14d"]},
             "legend": {"orient": "top", "direction": "horizontal", "title": null, "symbolType": "stroke", "symbolSize": 784, "symbolStrokeWidth": 2, "labelFontSize": 11.5, "columnPadding": 16, "gridAlign": "all", "offset": 3}}}},
          {"mark": {"type": "line", "strokeWidth": 2},
           "encoding": {"y": {"field": "b", "type": "quantitative", "title": null}, "color": {"datum": "50 Day", "type": "nominal"}}},
          {"mark": {"type": "line", "strokeWidth": 2},
           "encoding": {"y": {"field": "a", "type": "quantitative", "title": null}, "color": {"datum": "20 Day", "type": "nominal"}}}
         ]
        },
        {
         "width": 371, "height": 84,
         "data": {"name": "dy"},
         "encoding": {"x": {"field": "d", "type": "quantitative", "title": null, "scale": {"domain": [0, 133], "nice": false, "zero": false}, "axis": null}},
         "layer": [
          {"mark": {"type": "rule", "strokeWidth": 1},
           "encoding": {"y": {"field": "v", "type": "quantitative", "title": null, "scale": {"domain": [-0.035, 0.035], "nice": false},
             "axis": {"values": [-0.035, 0, 0.035], "format": ".4f", "grid": true, "tickSize": 4, "labelPadding": 8, "labelFontSize": 11.5, "minExtent": 78}},
            "y2": {"datum": 0},
            "color": {"datum": "Divergence", "type": "nominal", "scale": {"domain": ["Divergence", "MACD", "MACD Signal Line"], "range": ["#404040", "#23b14d", "#c8312f"]},
             "legend": {"orient": "bottom", "direction": "horizontal", "title": null, "symbolType": "stroke", "symbolSize": 784, "symbolStrokeWidth": 2, "labelFontSize": 12, "labelOffset": 13, "columnPadding": 27, "offset": 4,
              "encode": {"symbols": {"update": {"strokeWidth": {"signal": "datum.value === 'Divergence' ? 6 : 2"}}}}}}}},
          {"mark": {"type": "line", "strokeWidth": 2},
           "encoding": {"y": {"field": "m", "type": "quantitative", "title": null}, "color": {"datum": "MACD", "type": "nominal"}}},
          {"mark": {"type": "line", "strokeWidth": 2},
           "encoding": {"y": {"field": "s", "type": "quantitative", "title": null}, "color": {"datum": "MACD Signal Line", "type": "nominal"}}}
         ]
        }
       ]
      }
     ]
    },
    {
     "width": 407, "height": 207,
     "layer": [
      {"data": {"values": [{"n": "R2", "v": 1.4208}, {"n": "R1", "v": 1.4032}, {"n": "S1", "v": 1.3587}, {"n": "S2", "v": 1.3318}]},
       "mark": {"type": "rule", "strokeWidth": 2},
       "encoding": {"y": {"field": "v", "type": "quantitative", "title": null, "scale": {"domain": [1.32, 1.428], "nice": false, "zero": false},
         "axis": {"values": [1.32, 1.347, 1.374, 1.401, 1.428], "format": ".4f", "grid": false, "tickSize": 4, "labelPadding": 8, "labelFontSize": 12}},
        "color": {"field": "n", "type": "nominal", "scale": {"domain": ["CLOSE", "R2", "R1", "S1", "S2"], "range": ["#2e7cc6", "#c3d69b", "#e6b9b8", "#b3a2c7", "#93cddd"]},
         "legend": {"orient": "bottom", "direction": "horizontal", "title": "Note: Support & Resistance Calculated based on 24 Hr Pivot Points", "titleOrient": "bottom", "titleAnchor": "middle", "titleFontWeight": "normal", "titleFontSize": 12, "titleColor": "#222222", "titleLimit": 1000, "titlePadding": 11, "symbolType": "stroke", "symbolSize": 900, "symbolStrokeWidth": 2, "labelFontSize": 12, "columnPadding": 10, "gridAlign": "all", "offset": 2}}}},
      {"data": {"values": [{"n": "R2", "v": 1.4208}, {"n": "R1", "v": 1.4032}, {"n": "S1", "v": 1.3587}, {"n": "S2", "v": 1.3318}]},
       "mark": {"type": "text", "align": "right", "baseline": "bottom", "dx": -10, "dy": -3, "fontSize": 12, "color": "#403868"},
       "encoding": {"x": {"datum": 124, "type": "quantitative", "title": null}, "y": {"field": "v", "type": "quantitative", "title": null}, "text": {"field": "v", "type": "quantitative", "format": ".4f"}}},
      {"data": {"name": "hr"},
       "mark": {"type": "line", "strokeWidth": 2.5},
       "encoding": {"x": {"field": "i", "type": "quantitative", "title": null, "scale": {"domain": [0, 124], "nice": false, "zero": false},
         "axis": {"values": [0, 20, 40, 60, 80, 100, 120], "labelExpr": "[['9 Sep','0:00'],['9 Sep','20:00'],['12 Sep','16:00'],['13 Sep','12:00'],['14 Sep','8:00'],['15 Sep','4:00'],['16 Sep','0:00']][datum.value/20]", "grid": false, "tickSize": 4, "labelPadding": 10, "labelLineHeight": 16, "labelFontSize": 12, "labelFlush": false}},
        "y": {"field": "c", "type": "quantitative", "title": null}, "color": {"datum": "CLOSE", "type": "nominal"}}}
     ]
    }
   ]
  },
  {
   "width": 1024, "height": 6,
   "data": {"values": [{"k": 1}]},
   "mark": {"type": "rule", "color": "#7f7f7f", "strokeWidth": 1.5},
   "encoding": {"y": {"value": 1}}
  }
 ],
 "columns": 1,
 "align": "none",
 "spacing": 6,
 "resolve": {"scale": {"color": "independent", "x": "independent", "y": "independent"}, "legend": {"color": "independent"}}
}
